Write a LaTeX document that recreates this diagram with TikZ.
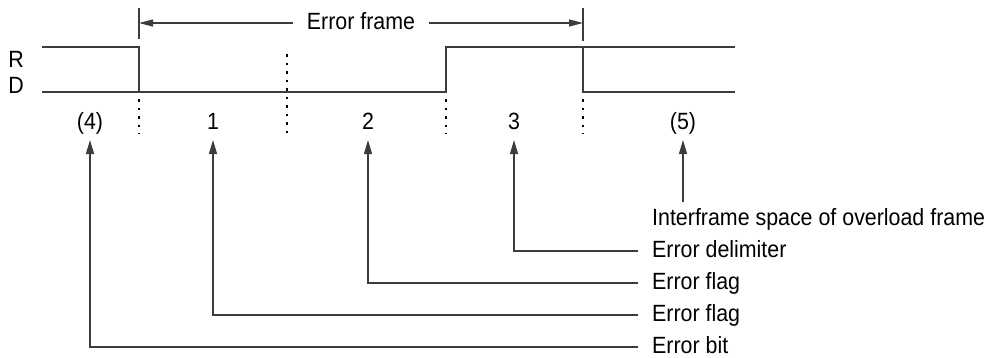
\documentclass[tikz,border=0pt]{standalone}
\usepackage{fontspec}
\setmainfont{Liberation Sans}[FakeStretch=0.91]
\usetikzlibrary{arrows.meta}
\definecolor{ln}{RGB}{60,60,60}
\begin{document}
\begin{tikzpicture}[x=1pt,y=-1pt,
  every node/.style={font=\fontsize{23.5}{25}\selectfont, inner sep=0pt},
  sig/.style={draw=ln, line width=1.6pt},
  dots/.style={draw=black, line width=1.2pt, dash pattern=on 2.5pt off 6pt},
  conn/.style={draw=ln, line width=1.3pt},
  upar/.style={conn, -{Triangle[length=14pt,width=8pt]}},
  frar/.style={conn, -{Triangle[length=14pt,width=7pt]}},
  lbl/.style={anchor=base},
  desc/.style={anchor=west, inner xsep=14pt, text height=12pt, text depth=0pt}]
\useasboundingbox (0,0) rectangle (990,357);
% R / D labels
\node[lbl] (R) at (16,67) {R};
\node[lbl] (D) at (16,93) {D};
% signal
\coordinate (r0) at (42,47);
\coordinate (d0) at (42,92);
\coordinate (e1r) at (139,47);
\coordinate (e1d) at (139,92);
\coordinate (e2d) at (446,92);
\coordinate (e2r) at (446,47);
\coordinate (e3r) at (583,47);
\coordinate (e3d) at (583,92);
\coordinate (rend) at (735,47);
\coordinate (dend) at (735,92);
\draw[sig] (r0) -- (e1r) -- (e1d);
\draw[sig] (d0) -- (e2d) -- (e2r) -- (rend);
\draw[sig] (e3r) -- (e3d) -- (dend);
% dotted separators
\coordinate (s1t) at (139,99); \coordinate (s1b) at (139,134);
\coordinate (s2t) at (287,54); \coordinate (s2b) at (287,134);
\coordinate (s3t) at (446,99); \coordinate (s3b) at (446,134);
\coordinate (s4t) at (583,99); \coordinate (s4b) at (583,134);
\draw[dots] (s1t) -- (s1b);
\draw[dots] (s2t) -- (s2b);
\draw[dots] (s3t) -- (s3b);
\draw[dots] (s4t) -- (s4b);
% error frame
\coordinate (t1a) at (139,8); \coordinate (t1b) at (139,39);
\coordinate (t2a) at (583,8); \coordinate (t2b) at (583,41);
\draw[conn] (t1a) -- (t1b);
\draw[conn] (t2a) -- (t2b);
\node[inner xsep=14pt, text height=12pt, text depth=0pt] (ef) at (361,23) {Error frame};
\coordinate (efl) at (139,23);
\coordinate (efr) at (583,23);
\draw[frar] (ef.west) -- (efl);
\draw[frar] (ef.east) -- (efr);
% segment labels
\node[lbl] (l4) at (90,129) {(4)};
\node[lbl] (l1) at (213,129) {1};
\node[lbl] (l2) at (368,129) {2};
\node[lbl] (l3) at (514,129) {3};
\node[lbl] (l5) at (683,129) {(5)};
% descriptions
\node[desc] (dIn) at (638,219) {Interframe space of overload frame};
\node[desc] (dDe) at (638,251) {Error delimiter};
\node[desc] (dF2) at (638,283) {Error flag};
\node[desc] (dF1) at (638,315) {Error flag};
\node[desc] (dBi) at (638,347) {Error bit};
% arrow tips
\coordinate (a4) at (90,140);
\coordinate (a1) at (213,140);
\coordinate (a2) at (368,140);
\coordinate (a3) at (514,140);
\coordinate (a5) at (683,140);
\coordinate (c5) at (683,202);
\draw[upar] (c5) -- (a5);
\draw[upar] (dDe.west) -| (a3);
\draw[upar] (dF2.west) -| (a2);
\draw[upar] (dF1.west) -| (a1);
\draw[upar] (dBi.west) -| (a4);
\end{tikzpicture}
\end{document}
